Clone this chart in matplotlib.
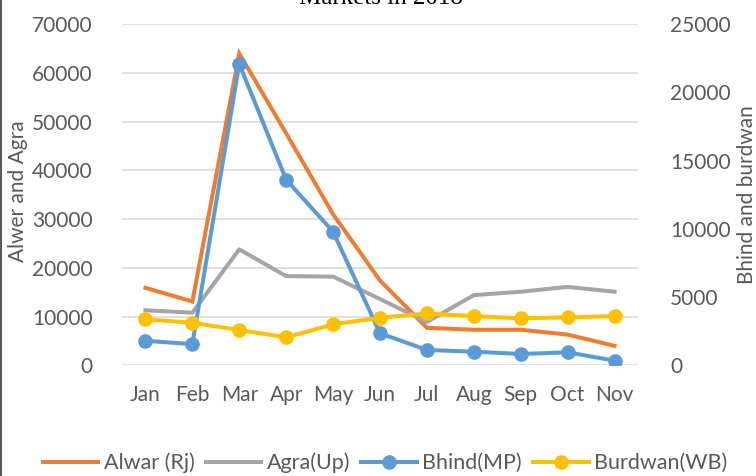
import matplotlib
matplotlib.use("Agg")
from matplotlib import pyplot as plt
from matplotlib.lines import Line2D

months = ["Jan", "Feb", "Mar", "Apr", "May", "Jun", "Jul", "Aug", "Sep", "Oct", "Nov"]

# left axis
alwar = [15900, 13100, 64000, 47600, 31000, 17400, 7700, 7300, 7300, 6300, 4000]
agra = [11300, 10800, 23800, 18300, 18200, 13600, 8900, 14400, 15100, 16100, 15100]
# right axis
bhind = [1800, 1550, 22100, 13600, 9800, 2350, 1120, 1000, 830, 950, 340]
burdwan = [3370, 3120, 2590, 2050, 3000, 3490, 3800, 3610, 3440, 3520, 3610]

grey = "#595959"
plt.rcParams["font.family"] = ["Lato", "DejaVu Sans"]

fig = plt.figure(figsize=(7.56, 4.76), dpi=100)
ax = fig.add_axes([122 / 756, 110.7 / 476, 516 / 756, 341 / 476])
ax2 = ax.twinx()

x = list(range(len(months)))
l1, = ax.plot(x, alwar, color="#ED7D31", lw=2.9, solid_joinstyle="miter", label="Alwar (Rj)")
l2, = ax.plot(x, agra, color="#A5A5A5", lw=2.9, label="Agra(Up)")
l3, = ax2.plot(x, bhind, color="#5B9BD5", lw=2.9, marker="o", ms=9.5, label="Bhind(MP)")
l4, = ax2.plot(x, burdwan, color="#FFC000", lw=2.9, marker="o", ms=9.5, label="Burdwan(WB)")

ax.set_xlim(-0.5, len(months) - 0.5)
ax.set_ylim(0, 70000)
ax2.set_ylim(0, 25000)
ax.set_yticks(range(0, 70001, 10000))
ax2.set_yticks(range(0, 25001, 5000))
ax.set_xticks(x)
ax.set_xticklabels(months)

ax.grid(axis="y", color="#d9d9d9", lw=1.1)
ax.set_axisbelow(True)
for a in (ax, ax2):
    for s in a.spines.values():
        s.set_visible(False)
ax.tick_params(axis="both", length=0, labelsize=15, colors=grey)
ax.tick_params(axis="y", pad=21)
ax.tick_params(axis="x", pad=14)
ax2.tick_params(axis="y", length=0, labelsize=15, colors=grey, pad=23)

fig.text(18 / 756, 1 - 191 / 476, "Alwer and Agra", rotation=90, ha="center", va="center",
         fontsize=15, color=grey)
fig.text(747 / 756, 1 - 195 / 476, "Bhind and burdwan", rotation=90, ha="center", va="center",
         fontsize=15, color=grey)

fig.text(381 / 756, 1 - 4.5 / 476, "Markets in 2018", ha="center", va="baseline",
         fontsize=18, family="Liberation Serif", color="black")

fig.legend(handles=[l1, l2, l3, l4], loc="center", bbox_to_anchor=(385 / 756, 1 - 463 / 476),
           ncol=4, frameon=False, fontsize=15.5, handlelength=2.6, handletextpad=0.25,
           columnspacing=0.5, labelcolor=grey, borderaxespad=0)

fig.add_artist(Line2D([1 / 756, 1 / 756], [0, 1], color=grey, lw=1.5))

fig.savefig("out.png", dpi=100)
